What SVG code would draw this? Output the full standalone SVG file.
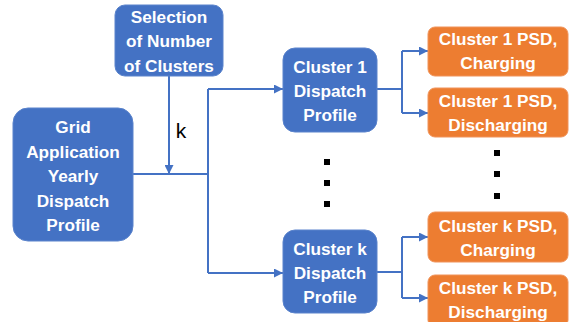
<svg xmlns="http://www.w3.org/2000/svg" width="572" height="322" viewBox="0 0 572 322">
  <style>
    .blue { fill: #4472C4; stroke: #5a83cc; stroke-width: 1; }
    .orange { fill: #ED7D31; stroke: #f0935a; stroke-width: 1; }
    .lbl { font-family: "Liberation Sans", Arial, sans-serif; font-weight: bold; font-size: 17.2px; fill: #ffffff; text-anchor: middle; }
    .conn { fill: none; stroke: #4472C4; stroke-width: 2; }
    .dot { fill: #000000; }
  </style>
  <defs>
    <marker id="arrow" viewBox="0 0 10 10" refX="10" refY="5" markerWidth="4.5" markerHeight="4.5" orient="auto" markerUnits="strokeWidth">
      <path d="M0,0 L10,5 L0,10 z" fill="#4472C4"/>
    </marker>
  </defs>

  <g id="connectors">
    <!-- k selection feeding the main line -->
    <path class="conn" d="M169,76 V174" marker-end="url(#arrow)"/>
    <path class="conn" d="M133,174 H208"/>
    <!-- fan-out to cluster profiles -->
    <path class="conn" d="M208,89 V273"/>
    <path class="conn" d="M208,89 H283" marker-end="url(#arrow)"/>
    <path class="conn" d="M208,273 H283" marker-end="url(#arrow)"/>
    <!-- cluster 1 to PSDs -->
    <path class="conn" d="M377,89 H402"/>
    <path class="conn" d="M402,51 V113"/>
    <path class="conn" d="M402,51 H428" marker-end="url(#arrow)"/>
    <path class="conn" d="M402,113 H428" marker-end="url(#arrow)"/>
    <!-- cluster k to PSDs -->
    <path class="conn" d="M377,272 H402"/>
    <path class="conn" d="M402,237 V298"/>
    <path class="conn" d="M402,237 H428" marker-end="url(#arrow)"/>
    <path class="conn" d="M402,298 H428" marker-end="url(#arrow)"/>
    <text x="181" y="138" font-family="Liberation Sans, Arial, sans-serif" font-size="21" fill="#000" text-anchor="middle">k</text>
  </g>

  <g id="selection">
    <rect class="blue" x="115" y="5" width="108" height="71" rx="10"/>
    <text class="lbl" x="169" y="23">Selection</text>
    <text class="lbl" x="169" y="47">of Number</text>
    <text class="lbl" x="169" y="72">of Clusters</text>
  </g>

  <g id="grid">
    <rect class="blue" x="13" y="108" width="120" height="133" rx="15"/>
    <text class="lbl" x="73" y="133">Grid</text>
    <text class="lbl" x="73" y="158">Application</text>
    <text class="lbl" x="73" y="182">Yearly</text>
    <text class="lbl" x="73" y="207">Dispatch</text>
    <text class="lbl" x="73" y="231">Profile</text>
  </g>

  <g id="cluster1">
    <rect class="blue" x="283" y="48" width="94" height="84" rx="12"/>
    <text class="lbl" x="330" y="73">Cluster 1</text>
    <text class="lbl" x="330" y="97">Dispatch</text>
    <text class="lbl" x="330" y="121">Profile</text>
  </g>

  <g id="clusterk">
    <rect class="blue" x="283" y="230" width="94" height="83" rx="12"/>
    <text class="lbl" x="330" y="255">Cluster k</text>
    <text class="lbl" x="330" y="279">Dispatch</text>
    <text class="lbl" x="330" y="303">Profile</text>
  </g>

  <g id="psd1-charging">
    <rect class="orange" x="428" y="27" width="140" height="49" rx="7"/>
    <text class="lbl" x="498" y="45">Cluster 1 PSD,</text>
    <text class="lbl" x="498" y="69">Charging</text>
  </g>

  <g id="psd1-discharging">
    <rect class="orange" x="428" y="88" width="140" height="49" rx="7"/>
    <text class="lbl" x="498" y="107">Cluster 1 PSD,</text>
    <text class="lbl" x="498" y="131">Discharging</text>
  </g>

  <g id="psdk-charging">
    <rect class="orange" x="428" y="212" width="140" height="50" rx="7"/>
    <text class="lbl" x="498" y="232">Cluster k PSD,</text>
    <text class="lbl" x="498" y="256">Charging</text>
  </g>

  <g id="psdk-discharging">
    <rect class="orange" x="428" y="275" width="140" height="52" rx="7"/>
    <text class="lbl" x="498" y="294">Cluster k PSD,</text>
    <text class="lbl" x="498" y="318">Discharging</text>
  </g>

  <g id="ellipsis">
    <rect class="dot" x="324" y="159" width="6" height="6"/>
    <rect class="dot" x="324" y="180" width="6" height="6"/>
    <rect class="dot" x="324" y="201" width="6" height="6"/>
    <rect class="dot" x="494" y="150" width="6" height="6"/>
    <rect class="dot" x="494" y="171" width="6" height="6"/>
    <rect class="dot" x="494" y="193" width="6" height="6"/>
  </g>
</svg>
